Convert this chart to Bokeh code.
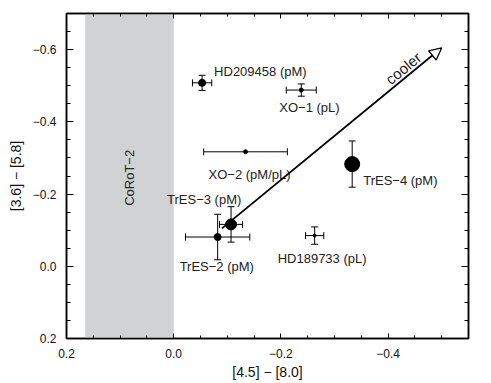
import numpy as np
from bokeh.plotting import figure
from bokeh.models import (Range1d, LinearAxis, FixedTicker, ColumnDataSource, Whisker,
                          TeeHead, Arrow, NormalHead, BoxAnnotation, CustomJSTickFormatter)
from bokeh.core.properties import value
from bokeh.embed import file_html
from bokeh.resources import INLINE

# ---- data ----
planets = ["HD209458 (pM)", "XO−1 (pL)", "XO−2 (pM/pL)", "TrES−4 (pM)",
           "TrES−3 (pM)", "TrES−2 (pM)", "HD189733 (pL)"]
c45_80 = [-0.053, -0.238, -0.134, -0.333, -0.107, -0.082, -0.263]
c45_80_err = [0.018, 0.028, 0.078, 0.0, 0.0215, 0.060, 0.017]
c36_58 = [-0.508, -0.488, -0.317, -0.283, -0.116, -0.081, -0.085]
c36_58_err = [0.021, 0.017, 0.0, 0.064, 0.049, 0.063, 0.024]
marker_size = [7, 4, 4, 15, 11, 7, 3]
label_dx = [12, -22, -37, 11, -64, -38, -37]
label_dy = [-11, 17, 23, 16, -25, 29, 23]

corot_band = [0.165, 0.0]
corot_label = "CoRoT−2"
arrow_x = [-0.09, -0.50]
arrow_y = [-0.105, -0.605]
arrow_text = "cooler"

x_ticks = [0.2, 0.0, -0.2, -0.4]
y_ticks = [0.2, 0.0, -0.2, -0.4, -0.6]
x_minor = [round(v, 2) for v in np.arange(0.2, -0.551, -0.05)]
y_minor = [round(v, 2) for v in np.arange(0.2, -0.701, -0.05)]

FONT = "Liberation Sans"

p = figure(width=491, height=383, x_range=Range1d(0.2, -0.55), y_range=Range1d(0.2, -0.7),
           output_backend="svg", toolbar_location=None,
           min_border_left=66, min_border_right=23, min_border_top=13, min_border_bottom=45,
           x_axis_location=None, y_axis_location=None)
p.grid.visible = False
p.outline_line_color = "black"
p.outline_line_width = 1.5
p.background_fill_color = "white"

fmt = CustomJSTickFormatter(code="return tick.toFixed(1).replace('-', '\u2212');")
blank = CustomJSTickFormatter(code="return '';")

def make_axis(ticks, minor, label, loc, major_len, minor_len):
    ax = LinearAxis(ticker=FixedTicker(ticks=ticks, minor_ticks=minor),
                    formatter=fmt if label is not None else blank)
    ax.major_tick_in = major_len
    ax.major_tick_out = 0
    ax.minor_tick_in = minor_len
    ax.minor_tick_out = 0
    ax.axis_line_width = 1.5
    ax.major_tick_line_width = 1
    ax.minor_tick_line_width = 1
    ax.major_label_text_font = FONT
    ax.major_label_text_font_size = "12px"
    ax.major_label_text_color = "#111111"
    if label is None:
        ax.major_label_standoff = 0
    else:
        ax.axis_label = label
        ax.axis_label_text_font = FONT
        ax.axis_label_text_font_size = "14px"
        ax.axis_label_text_font_style = "normal"
        ax.axis_label_text_color = "#111111"
    p.add_layout(ax, loc)
    return ax

bx = make_axis(x_ticks, x_minor, "[4.5] − [8.0]", "below", 5, 3)
bx.major_label_standoff = 10
bx.axis_label_standoff = 3
make_axis(x_ticks, x_minor, None, "above", 5, 3)
ly = make_axis(y_ticks, y_minor, "[3.6] − [5.8]", "left", 7, 4)
ly.major_label_standoff = 10
ly.axis_label_standoff = 6
make_axis(y_ticks, y_minor, None, "right", 7, 4)

# CoRoT-2 band
p.add_layout(BoxAnnotation(left=corot_band[0], right=corot_band[1], fill_color="#d1d2d4",
                           fill_alpha=1.0, line_color=None, level="underlay"))
p.text(x=[sum(corot_band) / 2], y=[-0.245], text=[corot_label], angle=90, angle_units="deg",
       text_font=value(FONT), text_font_size="13px", text_color="#222222",
       text_align="center", text_baseline="middle")

# error bars
xi = [i for i in range(len(planets)) if c45_80_err[i] > 0]
yi = [i for i in range(len(planets)) if c36_58_err[i] > 0]
xsrc = ColumnDataSource(dict(y=[c36_58[i] for i in xi],
                             lo=[c45_80[i] - c45_80_err[i] for i in xi],
                             hi=[c45_80[i] + c45_80_err[i] for i in xi]))
ysrc = ColumnDataSource(dict(x=[c45_80[i] for i in yi],
                             lo=[c36_58[i] - c36_58_err[i] for i in yi],
                             hi=[c36_58[i] + c36_58_err[i] for i in yi]))
p.add_layout(Whisker(source=xsrc, base="y", lower="lo", upper="hi", dimension="width",
                     line_color="black", line_width=1, level="glyph",
                     upper_head=TeeHead(size=7, line_color="black", line_width=1),
                     lower_head=TeeHead(size=7, line_color="black", line_width=1)))
p.add_layout(Whisker(source=ysrc, base="x", lower="lo", upper="hi", dimension="height",
                     line_color="black", line_width=1, level="glyph",
                     upper_head=TeeHead(size=7, line_color="black", line_width=1),
                     lower_head=TeeHead(size=7, line_color="black", line_width=1)))

src = ColumnDataSource(dict(x=c45_80, y=c36_58, s=marker_size, name=planets,
                            dx=label_dx, dy=label_dy))
p.scatter("x", "y", size="s", source=src, fill_color="black", line_color="black")
p.text("x", "y", text="name", source=src, x_offset="dx", y_offset="dy",
       text_font=value(FONT), text_font_size="13px", text_color="#222222",
       text_align="left", text_baseline="middle")

# cooler arrow
p.add_layout(Arrow(x_start=arrow_x[0], y_start=arrow_y[0], x_end=arrow_x[1], y_end=arrow_y[1],
                   line_color="black", line_width=1.8,
                   end=NormalHead(size=12, fill_color="white", line_color="black", line_width=1.3)))
t = 0.85
p.text(x=[arrow_x[0] + t * (arrow_x[1] - arrow_x[0])],
       y=[arrow_y[0] + t * (arrow_y[1] - arrow_y[0])],
       text=[arrow_text], angle=39.4, angle_units="deg",
       text_font=value(FONT), text_font_size="15px", text_color="#222222",
       text_align="center", text_baseline="bottom")

open("out.html", "w").write(file_html(p, INLINE))
